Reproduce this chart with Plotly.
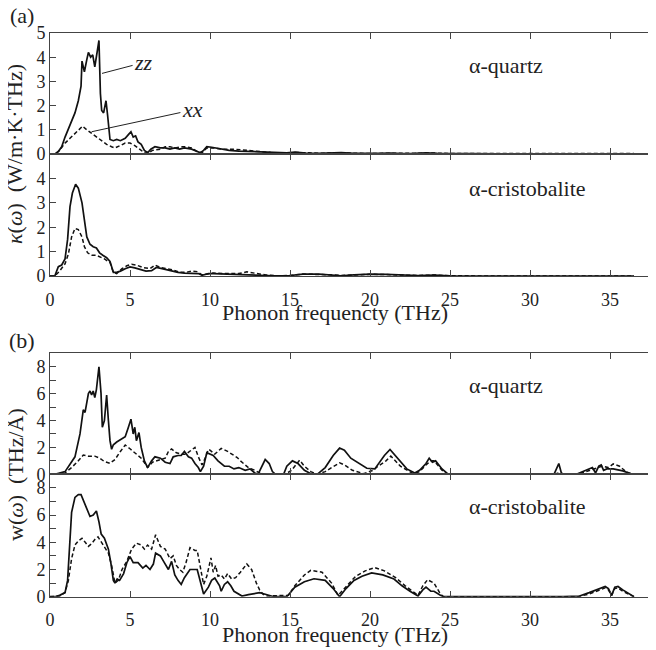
import plotly.graph_objects as go

# ---------------- data ----------------
# (a) alpha-quartz, spectral thermal conductivity kappa(omega)
qa_zz_f = [0, 0.3, 0.52, 0.73, 0.94, 1.25, 1.56, 1.77, 1.94, 2.0, 2.15, 2.3, 2.4, 2.54, 2.67, 2.8, 2.9, 3.06, 3.15, 3.23,
           3.35, 3.5, 3.6, 3.75, 3.96, 4.17, 4.4, 4.7, 4.9, 5.06, 5.2, 5.35, 5.5, 5.7, 5.9, 6.1, 6.3, 6.56, 6.9, 7.2,
           7.5, 7.8, 8.1, 8.4, 8.85, 9.2, 9.4, 9.6, 9.8, 10.1, 10.6, 11.2, 11.8, 12.4, 13.0, 13.6, 14.2, 14.8, 15.3, 16.0,
           16.8, 17.5, 18.2, 19.0, 19.8, 20.6, 21.3, 22.0, 22.8, 23.5, 24.2, 25.0, 26, 28, 30, 32, 34, 36.5]
qa_zz_k = [0, 0, 0.1, 0.3, 0.7, 1.2, 1.7, 2.2, 2.8, 3.84, 3.4, 3.9, 4.2, 4.0, 4.1, 3.6, 4.0, 4.69, 2.5, 1.8,
           1.7, 2.2, 1.6, 0.6, 0.55, 0.6, 0.55, 0.65, 0.8, 0.92, 0.7, 0.75, 0.5, 0.4, 0.15, 0.05, 0.2, 0.3, 0.25, 0.25,
           0.2, 0.25, 0.2, 0.25, 0.2, 0.1, 0.05, 0.15, 0.3, 0.28, 0.22, 0.15, 0.12, 0.1, 0.1, 0.08, 0.06, 0.05, 0.08, 0.04,
           0.03, 0.04, 0.06, 0.03, 0.02, 0.03, 0.04, 0.02, 0.03, 0.05, 0.03, 0.02, 0.02, 0.01, 0.01, 0.01, 0.01, 0.01]
qa_xx_f = [0, 0.3, 0.6, 0.94, 1.25, 1.56, 1.9, 2.04, 2.3, 2.6, 2.9, 3.23, 3.54, 3.85, 4.06, 4.4, 4.7, 5.0, 5.3, 5.6,
           5.9, 6.1, 6.4, 6.9, 7.2, 7.5, 7.8, 8.2, 8.5, 8.85, 9.2, 9.5, 9.8, 10.2, 10.8, 11.5, 12.2, 13.0, 13.8, 14.5,
           15.3, 16.2, 17.0, 18.0, 19.0, 20.0, 21.0, 22.0, 23.0, 24.0, 25.0, 27, 30, 33, 36.5]
qa_xx_k = [0, 0, 0.15, 0.45, 0.65, 0.85, 1.05, 1.15, 1.0, 0.85, 0.7, 0.55, 0.4, 0.3, 0.25, 0.35, 0.45, 0.45, 0.35, 0.2,
           0.05, 0.02, 0.15, 0.2, 0.3, 0.3, 0.25, 0.3, 0.3, 0.25, 0.1, 0.05, 0.25, 0.25, 0.2, 0.2, 0.15, 0.1, 0.06, 0.04,
           0.06, 0.05, 0.03, 0.05, 0.03, 0.02, 0.03, 0.02, 0.03, 0.04, 0.02, 0.02, 0.02, 0.02, 0.02]

# (a) alpha-cristobalite
ca_zz_f = [0, 0.3, 0.52, 0.73, 0.94, 1.1, 1.25, 1.4, 1.6, 1.77, 2.0, 2.15, 2.3, 2.5, 2.7, 2.9, 3.1, 3.3, 3.54, 3.75,
           3.96, 4.17, 4.4, 4.7, 5.0, 5.3, 5.7, 6.0, 6.35, 6.65, 7.0, 7.3, 7.6, 8.0, 8.4, 8.85, 9.27, 9.5, 9.9, 10.2,
           11.0, 12.0, 13.0, 14.0, 15.0, 15.8, 16.8, 17.5, 18.2, 19.0, 20.0, 21.0, 22.0, 23.0, 24.0, 25.0, 28, 32, 36.5]
ca_zz_k = [0, 0, 0.38, 0.45, 0.7, 1.5, 2.84, 3.4, 3.76, 3.6, 3.0, 2.3, 1.6, 1.3, 1.2, 1.15, 0.95, 0.85, 0.75, 0.6,
           0.15, 0.15, 0.2, 0.3, 0.37, 0.33, 0.25, 0.2, 0.22, 0.35, 0.3, 0.25, 0.2, 0.15, 0.12, 0.12, 0.1, 0.03, 0.1, 0.1,
           0.08, 0.06, 0.04, 0.01, 0.02, 0.08, 0.08, 0.04, 0.01, 0.05, 0.08, 0.07, 0.04, 0.02, 0.04, 0.01, 0.0, 0.0, 0.0]
ca_xx_f = [0, 0.3, 0.6, 0.94, 1.15, 1.35, 1.56, 1.77, 2.0, 2.15, 2.35, 2.6, 2.9, 3.1, 3.4, 3.75, 3.96, 4.17, 4.5, 4.8,
           5.1, 5.4, 5.8, 6.25, 6.56, 6.9, 7.3, 7.7, 8.1, 8.5, 8.85, 9.2, 9.5, 9.9, 10.2, 11.0, 11.8, 12.3, 12.9, 13.5,
           14.2, 15.0, 15.8, 16.8, 17.5, 18.2, 19.0, 20.0, 21.0, 22.0, 23.0, 24.0, 25.0, 28, 32, 36.5]
ca_xx_k = [0, 0, 0.2, 0.5, 0.9, 1.6, 1.95, 1.9, 1.6, 1.2, 0.95, 0.85, 0.85, 0.8, 0.7, 0.55, 0.15, 0.1, 0.3, 0.42,
           0.48, 0.45, 0.35, 0.3, 0.45, 0.35, 0.3, 0.25, 0.15, 0.15, 0.2, 0.18, 0.05, 0.1, 0.12, 0.1, 0.1, 0.17, 0.1, 0.04,
           0.01, 0.02, 0.08, 0.08, 0.05, 0.02, 0.05, 0.07, 0.06, 0.04, 0.02, 0.04, 0.01, 0.0, 0.0, 0.0]

# (b) alpha-quartz, w(omega)
qb_zz_f = [0, 0.3, 0.94, 1.56, 1.875, 2.08, 2.19, 2.4, 2.5, 2.6, 2.7, 2.8, 2.9, 3.06, 3.19, 3.27, 3.4, 3.54, 3.65, 3.75,
           3.85, 3.96, 4.17, 4.4, 4.7, 4.9, 5.06, 5.2, 5.3, 5.4, 5.56, 5.7, 5.9, 6.1, 6.35, 6.56, 6.9, 7.2, 7.5, 7.7,
           8.0, 8.2, 8.4, 8.65, 8.85, 9.06, 9.27, 9.4, 9.6, 9.8, 10.0, 10.2, 10.5, 10.9, 11.2, 11.5, 11.8, 12.2, 12.5, 12.8,
           13.0, 13.2, 13.45, 13.7, 13.9, 14.1, 14.6, 14.8, 15.15, 15.5, 15.9, 16.3, 16.7, 17.2, 17.7, 18.1, 18.4, 18.8, 19.3, 19.8,
           20.3, 20.9, 21.25, 21.7, 22.3, 22.8, 23.1, 23.5, 23.7, 23.9, 24.1, 24.5, 24.9, 31.5, 31.8, 31.96, 32.1, 32.9, 33.5, 33.9,
           34.1, 34.3, 34.45, 34.6, 34.8, 35.2, 35.8, 36.4]
qb_zz_w = [0, 0, 0.2, 1.3, 3.0, 4.8, 4.6, 6.0, 6.2, 5.9, 6.2, 5.7, 6.3, 8.0, 6.0, 3.5, 4.0, 5.9, 4.0, 2.5,
           1.86, 2.2, 2.4, 2.6, 2.8, 3.5, 4.1, 3.0, 3.5, 2.5, 3.1, 2.0, 1.0, 0.5, 1.0, 1.3, 1.2, 0.9, 0.8, 1.3,
           1.4, 1.4, 1.7, 1.3, 1.2, 0.8, 0.5, 0.2, 0.6, 1.6, 1.5, 1.4, 1.0, 0.6, 0.6, 0.4, 0.5, 0.3, 0.4, 0.1,
           0.0, 0.5, 1.1, 0.8, 0.2, 0.0, 0.0, 0.6, 1.0, 0.8, 0.3, 0.05, 0.0, 0.5, 1.4, 1.95, 1.8, 1.2, 0.8, 0.45,
           0.4, 1.4, 1.85, 1.2, 0.4, 0.1, 0.3, 0.8, 1.2, 0.9, 1.0, 0.4, 0.0, 0.0, 0.8, 0.1, 0.0, 0.0, 0.3, 0.5,
           0.1, 0.6, 0.7, 0.3, 0.4, 0.4, 0.25, 0.0]
qb_xx_f = [0, 0.3, 0.94, 1.35, 1.77, 2.08, 2.4, 2.8, 3.1, 3.4, 3.75, 4.06, 4.4, 4.7, 5.0, 5.3, 5.7, 6.0, 6.1, 6.4,
           6.9, 7.2, 7.4, 7.6, 7.9, 8.2, 8.5, 8.85, 9.06, 9.27, 9.5, 9.7, 9.9, 10.0, 10.3, 10.7, 11.1, 11.5, 11.7, 11.9,
           12.4, 12.8, 13.1, 13.4, 14.7, 15.1, 15.6, 15.9, 16.3, 16.7, 17.2, 17.6, 18.1, 18.4, 18.9, 19.6, 20.2, 20.5, 21.0, 21.3,
           21.9, 22.7, 23.1, 23.5, 23.8, 24.0, 24.5, 24.8, 31.5, 31.8, 32.1, 33.0, 33.5, 34.1, 34.5, 34.9, 35.2, 35.6, 36.0, 36.4]
qb_xx_w = [0, 0, 0.1, 0.5, 1.0, 1.43, 1.35, 1.35, 1.2, 0.95, 0.82, 1.1, 1.7, 2.18, 1.9, 1.6, 1.2, 0.7, 0.5, 0.9,
           1.1, 1.2, 1.7, 1.88, 1.6, 1.5, 1.5, 1.8, 2.0, 1.3, 0.7, 1.2, 1.85, 1.8, 1.5, 1.93, 1.7, 1.4, 1.25, 1.0,
           0.5, 0.3, 0.1, 0.0, 0.0, 0.3, 1.05, 0.6, 0.2, 0.0, 0.2, 0.5, 0.85, 0.7, 0.3, 0.05, 0.3, 0.6, 1.0, 1.36,
           0.6, 0.05, 0.2, 0.7, 1.0, 1.0, 0.3, 0.0, 0.0, 0.1, 0.0, 0.0, 0.2, 0.4, 0.6, 0.5, 0.77, 0.6, 0.2, 0.0]

# (b) alpha-cristobalite
cb_zz_f = [0, 0.3, 0.6, 0.94, 1.1, 1.2, 1.35, 1.56, 1.77, 1.94, 2.08, 2.3, 2.5, 2.7, 2.9, 3.06, 3.2, 3.4, 3.65, 3.8,
           3.96, 4.06, 4.2, 4.35, 4.6, 4.8, 5.0, 5.2, 5.5, 5.8, 6.0, 6.25, 6.46, 6.6, 6.9, 7.1, 7.3, 7.4, 7.6, 7.8,
           8.0, 8.2, 8.4, 8.75, 9.2, 9.4, 9.6, 9.9, 10.1, 10.3, 10.6, 10.7, 10.9, 11.1, 11.3, 11.5, 11.77, 12.0, 12.4, 12.8,
           13.1, 13.4, 13.7, 14.0, 14.8, 15.3, 15.9, 16.5, 17.2, 17.7, 18.1, 18.5, 19.0, 19.5, 20.1, 20.8, 21.5, 22.0, 22.5, 23.0,
           23.3, 23.5, 23.8, 24.0, 24.4, 24.6, 32.1, 33.1, 33.7, 34.4, 34.7, 34.9, 35.1, 35.3, 35.5, 35.8, 36.2, 36.5]
cb_zz_w = [0, 0, 0.1, 0.3, 1.2, 3.0, 6.2, 7.3, 7.5, 7.5, 7.1, 6.4, 5.9, 6.0, 6.3, 5.5, 4.6, 4.3, 3.5, 2.5,
           1.2, 1.0, 1.3, 1.2, 1.7, 2.5, 2.94, 2.5, 2.5, 2.1, 2.3, 2.0, 2.4, 3.2, 3.0, 2.6, 2.2, 2.0, 2.6, 1.6,
           1.2, 0.9, 1.4, 2.0, 2.0, 1.0, 0.2, 0.7, 1.2, 1.37, 0.8, 0.4, 0.9, 1.1, 0.8, 0.4, 0.2, 0.05, 0.15, 0.25,
           0.3, 0.2, 0.1, 0.0, 0.0, 0.7, 1.1, 1.32, 1.2, 0.6, 0.0, 0.6, 1.2, 1.5, 1.75, 1.6, 1.3, 0.8, 0.4, 0.05,
           0.5, 0.7, 0.4, 0.4, 0.1, 0.0, 0.0, 0.05, 0.3, 0.6, 0.75, 0.6, 0.1, 0.7, 0.75, 0.5, 0.2, 0.0]
cb_xx_f = [0, 0.3, 0.6, 0.94, 1.15, 1.35, 1.56, 1.77, 2.0, 2.2, 2.4, 2.6, 2.8, 3.0, 3.2, 3.4, 3.65, 3.85, 3.96, 4.06,
           4.27, 4.5, 4.8, 5.1, 5.4, 5.7, 5.9, 6.1, 6.35, 6.6, 6.9, 7.2, 7.5, 7.7, 7.9, 8.1, 8.3, 8.5, 8.75, 9.06,
           9.2, 9.4, 9.6, 9.8, 10.06, 10.2, 10.35, 10.5, 10.7, 10.9, 11.1, 11.35, 11.6, 11.9, 12.3, 12.6, 12.9, 13.1, 13.3, 13.5,
           14.9, 15.3, 15.9, 16.3, 17.0, 17.6, 18.0, 18.4, 19.1, 19.7, 20.3, 20.9, 21.6, 22.2, 23.0, 23.3, 23.6, 24.0, 24.4, 24.6,
           33.0, 33.7, 34.4, 34.7, 34.9, 35.1, 35.3, 35.5, 35.8, 36.2, 36.5]
cb_xx_w = [0, 0, 0.05, 0.3, 1.2, 2.8, 3.8, 4.1, 4.3, 4.0, 3.7, 3.9, 4.2, 4.4, 4.0, 3.6, 3.2, 2.3, 1.5, 1.0,
           1.2, 2.0, 2.6, 3.5, 3.93, 3.8, 3.5, 3.8, 3.5, 4.55, 3.7, 3.5, 2.8, 3.0, 2.3, 2.0, 1.8, 2.5, 3.6, 3.4,
           3.4, 2.2, 0.9, 1.5, 2.86, 1.8, 2.3, 1.5, 1.6, 1.3, 1.7, 1.3, 1.4, 1.8, 2.41, 2.0, 1.0, 0.5, 0.2, 0.05,
           0.1, 0.8, 1.6, 1.94, 1.8, 1.0, 0.1, 0.6, 1.5, 1.9, 2.14, 1.9, 1.4, 0.8, 0.1, 0.8, 1.25, 1.0, 0.2, 0.0,
           0.0, 0.2, 0.5, 0.65, 0.5, 0.1, 0.6, 0.65, 0.4, 0.15, 0.0]

for a, b in [(qa_zz_f, qa_zz_k), (qa_xx_f, qa_xx_k), (ca_zz_f, ca_zz_k), (ca_xx_f, ca_xx_k),
             (qb_zz_f, qb_zz_w), (qb_xx_f, qb_xx_w), (cb_zz_f, cb_zz_w), (cb_xx_f, cb_xx_w)]:
    assert len(a) == len(b), (len(a), len(b))

x_ticks = [0, 5, 10, 15, 20, 25, 30, 35]
ka_top_ticks = [0, 1, 2, 3, 4, 5]
ka_bot_ticks = [0, 1, 2, 3, 4]
wb_ticks = [0, 1, 2, 3, 4, 5, 6, 7, 8]
wb_text = ["0", "", "2", "", "4", "", "6", "", "8"]

# ---------------- figure ----------------
FONT = "Liberation Serif"
INK = "#222222"
AX = "#444444"
OFF = 8                       # page body margin offset
W, H = 656 - OFF, 650 - OFF
ML, MR, MT = 50 - OFF, 1, 33 - OFF
PLOT_BOTTOM = 597             # reference pixel row of lowest axis
MB = H - (PLOT_BOTTOM - OFF)
PW, PH = W - ML - MR, H - MT - MB


def py(px):  # reference pixel row -> paper y
    return (PLOT_BOTTOM - px) / PH


def pxp(px):  # reference pixel column -> paper x
    return (px - 50) / PW


doms = [(py(154), py(33)), (py(276), py(154)), (py(474.3), py(353.3)), (py(596.7), py(474.3))]
xr = [0, PW / 16.0]

fig = go.Figure()
series = [(1, qa_zz_f, qa_zz_k, "zz"), (1, qa_xx_f, qa_xx_k, "xx"),
          (2, ca_zz_f, ca_zz_k, "zz"), (2, ca_xx_f, ca_xx_k, "xx"),
          (3, qb_zz_f, qb_zz_w, "zz"), (3, qb_xx_f, qb_xx_w, "xx"),
          (4, cb_zz_f, cb_zz_w, "zz"), (4, cb_xx_f, cb_xx_w, "xx")]
for i, xs, ys, comp in series:
    sfx = "" if i == 1 else str(i)
    fig.add_trace(go.Scatter(
        x=xs, y=ys, mode="lines", xaxis="x" + sfx, yaxis="y" + sfx, showlegend=False,
        line=dict(color="#111111", width=1.7 if comp == "zz" else 1.5,
                  dash="solid" if comp == "zz" else "4px,2.5px")))

common_ax = dict(showline=True, linecolor=AX, linewidth=1, mirror="ticks", ticks="inside",
                 ticklen=6, tickcolor=AX, tickwidth=1, showgrid=False, zeroline=False,
                 tickfont=dict(family=FONT, size=18, color=INK))
layout = dict(width=W, height=H, margin=dict(l=ML, r=MR, t=MT, b=MB, autoexpand=False),
              paper_bgcolor="white", plot_bgcolor="white",
              font=dict(family=FONT, color=INK))
for i in range(1, 5):
    sfx = "" if i == 1 else str(i)
    layout["xaxis" + sfx] = dict(common_ax, domain=[0, 1], range=xr, anchor="y" + sfx,
                                 tickvals=x_ticks, showticklabels=(i in (2, 4)),
                                 ticklabelstandoff=7)
    if i == 1:
        yv, yt, yrng = ka_top_ticks, [str(v) for v in ka_top_ticks], [0, 5]
    elif i == 2:
        yv, yt, yrng = ka_bot_ticks, [str(v) for v in ka_bot_ticks], [0, 5]
    else:
        yv, yt, yrng = wb_ticks, wb_text, [0, 9]
    layout["yaxis" + sfx] = dict(common_ax, domain=list(doms[i - 1]), range=yrng, anchor="x" + sfx,
                                 tickvals=yv, ticktext=yt)
fig.update_layout(**layout)

TF = dict(family=FONT, size=22, color=INK)
ann = []
# material labels
for i, yv, txt in [(1, 3.66, "α-quartz"), (2, 3.6, "α-cristobalite"),
                   (3, 6.64, "α-quartz"), (4, 6.62, "α-cristobalite")]:
    sfx = "" if i == 1 else str(i)
    ann.append(dict(x=26.05, y=yv, xref="x" + sfx, yref="y" + sfx, text=txt, showarrow=False,
                    xanchor="left", yanchor="middle", font=TF))
# x titles
for yp, sfx in [(py(312), "2"), (py(634), "4")]:
    ann.append(dict(x=17.8, y=yp, xref="x" + sfx, yref="paper", text="Phonon frequencty (THz)",
                    showarrow=False, xanchor="center", yanchor="middle", font=TF))
# y titles
ann.append(dict(x=pxp(15), y=py(154), xref="paper", yref="paper",
                text="<i>κ</i>(<i>ω</i>)  (W/m·K·THz)", textangle=-90, showarrow=False,
                xanchor="center", yanchor="middle", font=TF))
ann.append(dict(x=pxp(15), y=py(475), xref="paper", yref="paper",
                text="w(<i>ω</i>)  (THz/Å)", textangle=-90, showarrow=False,
                xanchor="center", yanchor="middle", font=TF))
# panel letters
ann.append(dict(x=pxp(22), y=py(15), xref="paper", yref="paper", text="(a)",
                showarrow=False, xanchor="center", yanchor="middle", font=TF))
ann.append(dict(x=pxp(22), y=py(340), xref="paper", yref="paper", text="(b)",
                showarrow=False, xanchor="center", yanchor="middle", font=TF))
# component labels with leader lines
ann.append(dict(x=3.25, y=3.33, ax=5.85, ay=3.78, xref="x", yref="y", axref="x", ayref="y",
                text="<i>zz</i>", showarrow=True, arrowhead=0, arrowwidth=1, arrowcolor="#222",
                font=dict(family=FONT, size=22, color=INK), standoff=0, startstandoff=0))
ann.append(dict(x=2.6, y=0.92, ax=8.9, ay=1.82, xref="x", yref="y", axref="x", ayref="y",
                text="<i>xx</i>", showarrow=True, arrowhead=0, arrowwidth=1, arrowcolor="#222",
                font=dict(family=FONT, size=22, color=INK), standoff=0, startstandoff=0))
fig.update_layout(annotations=ann)

fig.write_html("out.html")
